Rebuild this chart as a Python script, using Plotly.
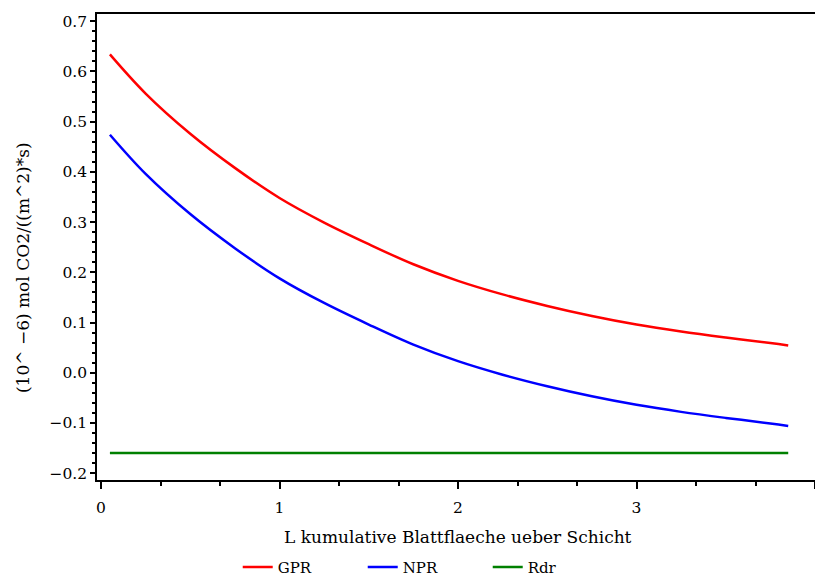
import plotly.graph_objects as go

# Data
L_vals = [0.05, 0.25, 0.5, 0.75, 1.0, 1.25, 1.5, 1.75, 2.0, 2.25, 2.5, 2.75, 3.0, 3.25, 3.5, 3.75, 3.85]
GPR = [0.634, 0.556, 0.476, 0.408, 0.348, 0.299, 0.256, 0.216, 0.183, 0.156, 0.133, 0.113, 0.096, 0.082, 0.070, 0.059, 0.054]
NPR = [0.474, 0.396, 0.316, 0.248, 0.188, 0.139, 0.096, 0.056, 0.023, -0.004, -0.027, -0.047, -0.064, -0.078, -0.090, -0.101, -0.106]
Rdr = [-0.16] * len(L_vals)

x_ticks = [0, 1, 2, 3, 4]
y_ticks = [-0.2, -0.1, 0.0, 0.1, 0.2, 0.3, 0.4, 0.5, 0.6, 0.7]

FONT = "DejaVu Serif"

fig = go.Figure()
fig.add_trace(go.Scatter(x=L_vals, y=GPR, name="GPR", mode="lines",
                         line=dict(color="#ff0000", width=2.5, shape="spline")))
fig.add_trace(go.Scatter(x=L_vals, y=NPR, name="NPR", mode="lines",
                         line=dict(color="#0000ff", width=2.5, shape="spline")))
fig.add_trace(go.Scatter(x=L_vals, y=Rdr, name="Rdr", mode="lines",
                         line=dict(color="#008000", width=2.5)))

fig.update_layout(
    width=815, height=577,
    margin=dict(l=97, r=0, t=14, b=97, autoexpand=False),
    paper_bgcolor="white", plot_bgcolor="white",
    font=dict(family=FONT, size=15, color="black"),
    showlegend=True,
    legend=dict(orientation="h", x=0.196, xanchor="left", y=-0.187, yanchor="middle",
                font=dict(family=FONT, size=15), entrywidth=80, traceorder="normal"),
    xaxis=dict(range=[-0.0224, 4.0], tickvals=x_ticks, ticktext=[str(v) for v in x_ticks],
               showgrid=False, zeroline=False, showline=True, linecolor="black", linewidth=1.5,
               mirror=True, ticks="outside", ticklen=7, tickcolor="black", tickwidth=1.5,
               ticklabelstandoff=6,
               minor=dict(dtick=1/3, tick0=0, ticks="outside", ticklen=4, tickcolor="black", showgrid=False),
               automargin=False, tickfont=dict(family=FONT, size=15.5)),
    yaxis=dict(range=[-0.2137, 0.7145], tickvals=y_ticks, ticktext=["%.1f" % v if v >= 0 else "\u2212%.1f" % abs(v) for v in y_ticks],
               showgrid=False, zeroline=False, showline=True, linecolor="black", linewidth=1.5,
               ticks="outside", ticklen=5, tickcolor="black", tickwidth=1.5,
               minor=dict(dtick=0.02, tick0=0, ticks="outside", ticklen=3, tickcolor="black", showgrid=False),
               automargin=False, tickfont=dict(family=FONT, size=15.5)),
    annotations=[
        dict(text="L kumulative Blattflaeche ueber Schicht", xref="paper", yref="paper",
             x=0.503, y=-0.122, xanchor="center", yanchor="middle", showarrow=False,
             font=dict(family=FONT, size=17)),
        dict(text="(10^ \u22126) mol CO2/((m^2)*s)", xref="paper", yref="paper",
             x=-0.103, y=0.455, xanchor="center", yanchor="middle", showarrow=False,
             textangle=-90, font=dict(family=FONT, size=17)),
    ],
)

fig.write_html("out.html")
